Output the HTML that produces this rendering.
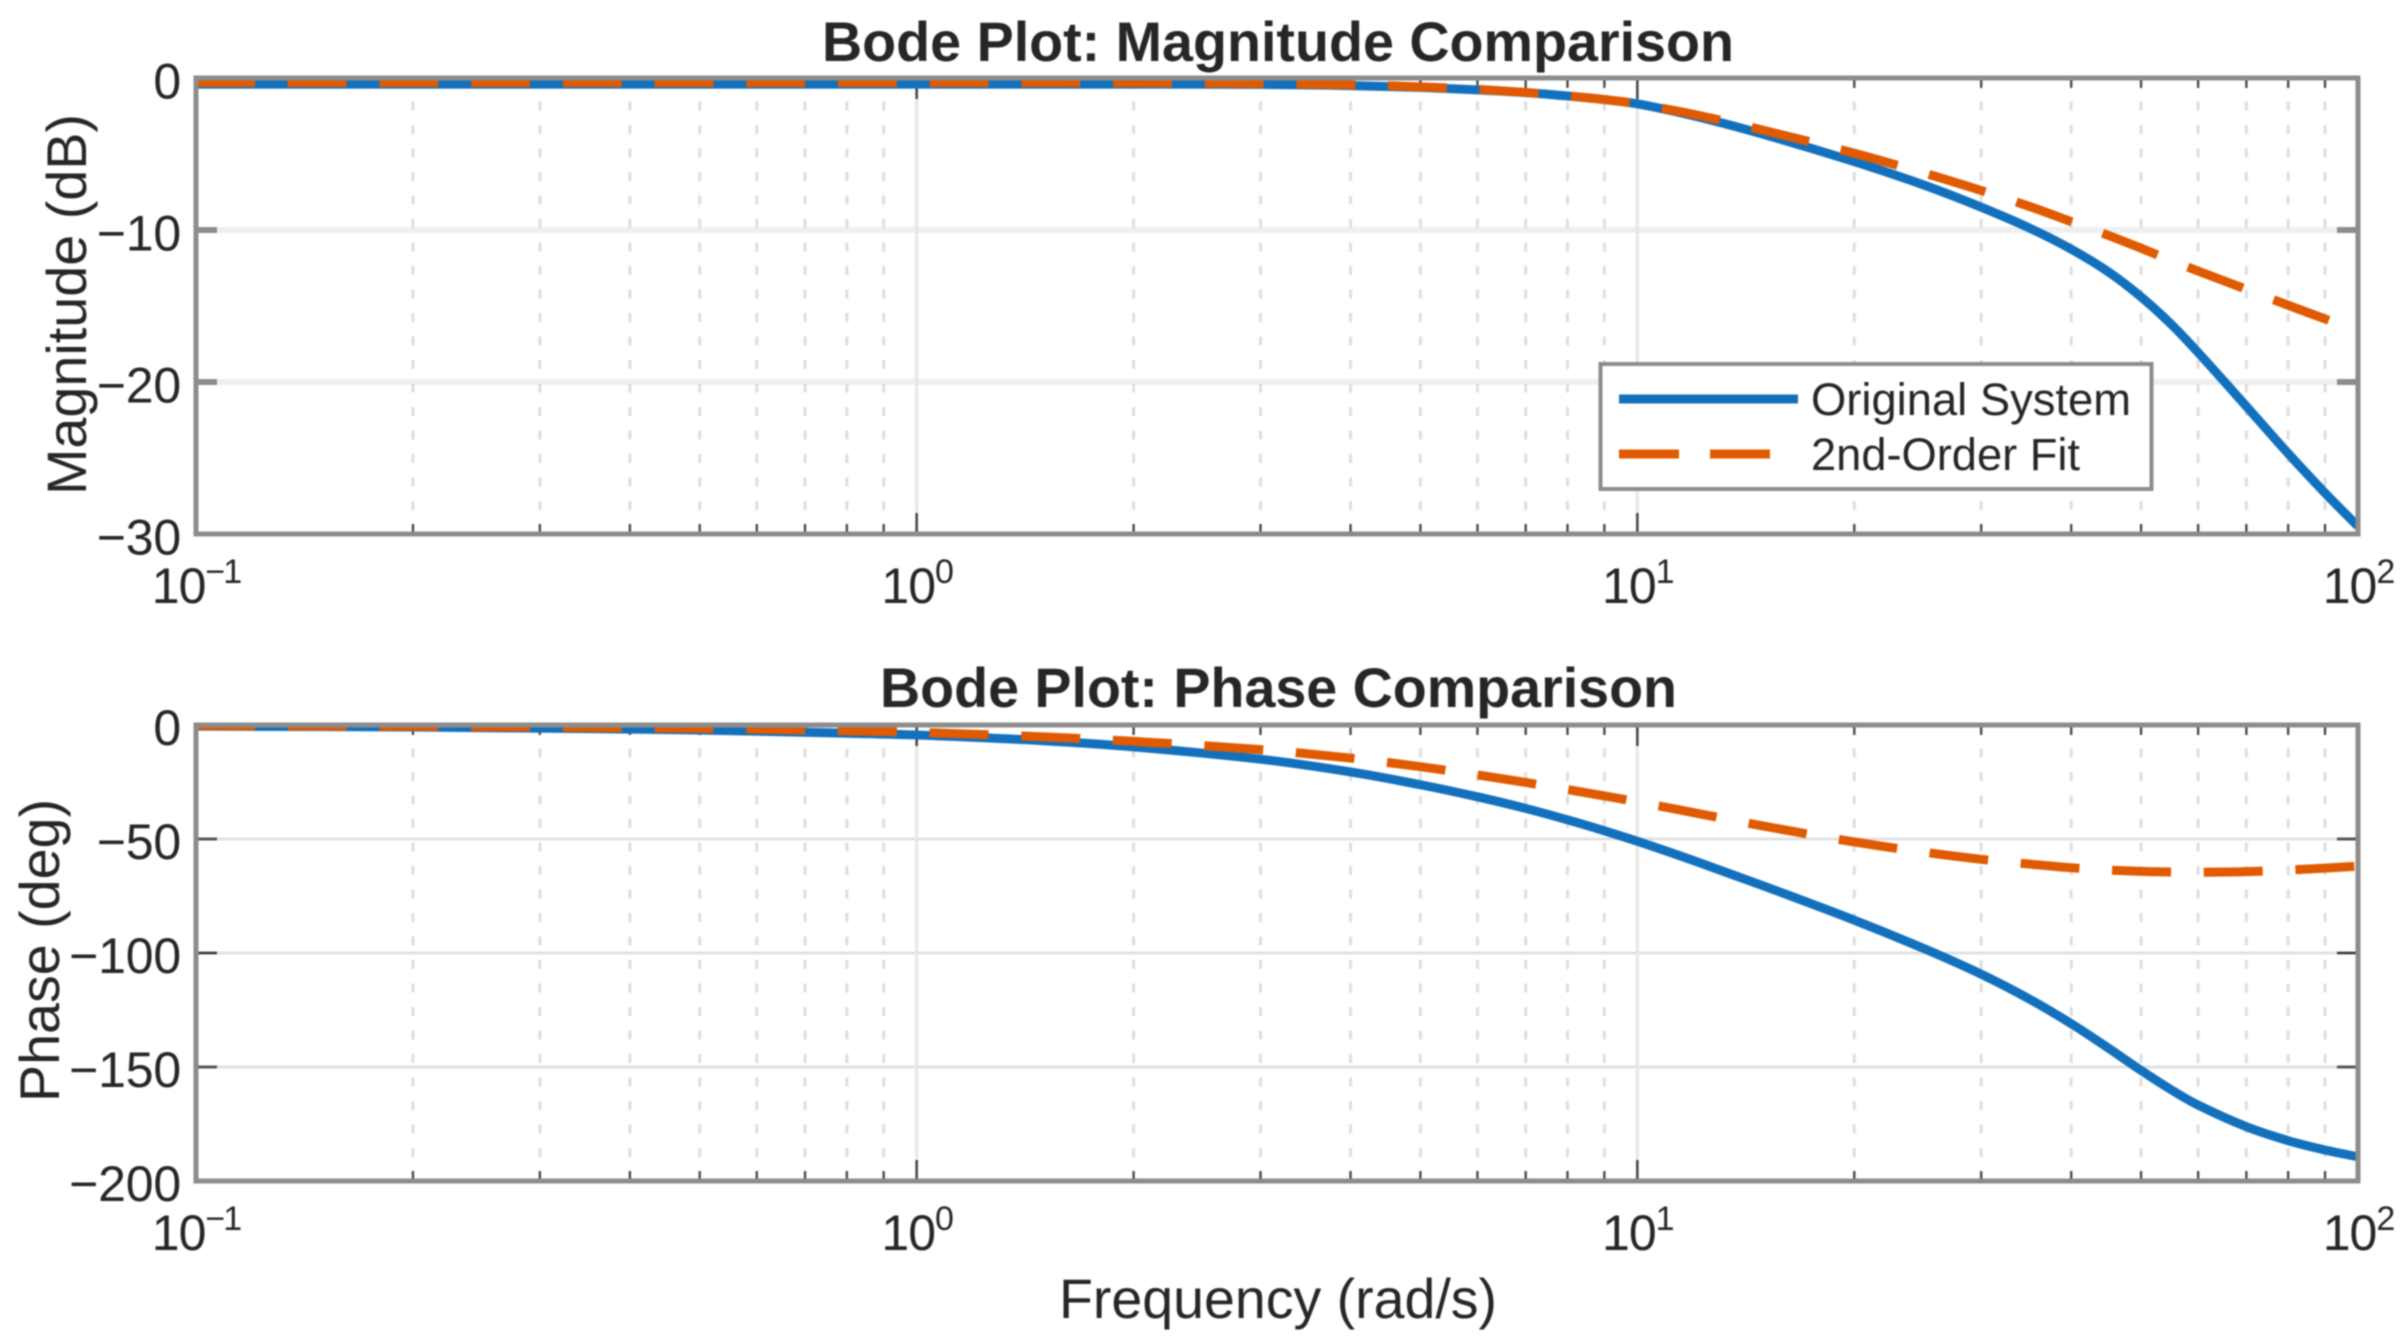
<!DOCTYPE html>
<html>
<head>
<meta charset="utf-8">
<title>Bode Plot Comparison</title>
<style>
html,body{margin:0;padding:0;background:#fff;width:2406px;height:1342px;overflow:hidden}
svg{display:block;filter:blur(0.8px)}
text{font-family:"Liberation Sans",sans-serif;fill:#262626}
</style>
</head>
<body>
<svg id="chart" xmlns="http://www.w3.org/2000/svg" width="2406" height="1342" viewBox="0 0 2406 1342">
  <rect x="0" y="0" width="2406" height="1342" fill="#ffffff"/>
  <defs>
    <clipPath id="clip-mag"><rect x="196" y="78" width="2162" height="456"/></clipPath>
    <clipPath id="clip-phase"><rect x="196" y="725" width="2162" height="456"/></clipPath>
  </defs>
  <g id="mag-panel"></g>
  <g id="phase-panel"></g>
  <text x="822" y="61" font-size="56" font-weight="bold" textLength="912" lengthAdjust="spacingAndGlyphs">Bode Plot: Magnitude Comparison</text>
  <text x="880" y="707" font-size="56" font-weight="bold" textLength="797" lengthAdjust="spacingAndGlyphs">Bode Plot: Phase Comparison</text>
  <text transform="translate(86,495) rotate(-90)" font-size="56" textLength="381" lengthAdjust="spacingAndGlyphs">Magnitude (dB)</text>
  <text transform="translate(59,1102) rotate(-90)" font-size="56" textLength="303" lengthAdjust="spacingAndGlyphs">Phase (deg)</text>
  <text x="1059" y="1318" font-size="56" textLength="438" lengthAdjust="spacingAndGlyphs">Frequency (rad/s)</text>
  <g>
    <rect x="1600.5" y="364" width="551" height="125" fill="#ffffff" stroke="#8c8c8c" stroke-width="4"/>
    <line x1="1619" y1="399" x2="1798" y2="399" stroke="#1270bd" stroke-width="9"/>
    <line x1="1619" y1="454" x2="1798" y2="454" stroke="#df5a00" stroke-width="9" stroke-dasharray="60 31"/>
    <text x="1811" y="415" font-size="45" textLength="320" lengthAdjust="spacingAndGlyphs">Original System</text>
    <text x="1811" y="470" font-size="45" textLength="269" lengthAdjust="spacingAndGlyphs">2nd-Order Fit</text>
  </g>
</svg>
<script>
// Data
const frequencies = [0.1,0.2,0.5,0.8,1,1.5,2,3,4,5,6,7,8,9,10,12,15,20,25,30,35,40,45,50,55,60,70,80,90,100];
const magOriginal = [-0.4,-0.4,-0.4,-0.4,-0.4,-0.4,-0.4,-0.42,-0.5,-0.62,-0.78,-0.96,-1.18,-1.42,-1.7,-2.5,-3.72,-5.5,-7.05,-8.5,-9.87,-11.26,-12.74,-14.4,-16.18,-18.06,-21.6,-24.7,-27.3,-29.5];
const magFit = [-0.3,-0.3,-0.3,-0.3,-0.3,-0.3,-0.32,-0.36,-0.45,-0.58,-0.75,-0.95,-1.18,-1.42,-1.7,-2.4,-3.45,-4.95,-6.25,-7.4,-8.45,-9.45,-10.35,-11.2,-12,-12.7,-13.9,-14.95,-15.85,-16.65];
const phaseOriginal = [-0.5,-0.9,-2.2,-3.6,-4.4,-6.9,-9.6,-15,-20.6,-26.2,-31.5,-36.6,-41.6,-46.4,-51,-59.6,-70.7,-85.6,-98.1,-109.3,-120.2,-131,-141.6,-151.5,-159.9,-166.7,-176.2,-182.3,-186.4,-189.4];
const phaseFit = [-0.3,-0.6,-1.5,-2.5,-3.2,-5.2,-7.2,-10.8,-14.5,-18.3,-21.9,-25.2,-28.3,-31.1,-33.7,-38.5,-44.4,-51.3,-55.8,-58.9,-61,-62.6,-63.6,-64.2,-64.5,-64.6,-64.3,-63.6,-62.8,-61.9];
const xDecades = [-1,0,1,2];
const xMinorMultipliers = [2,3,4,5,6,7,8,9];
const magTicks = [0,-10,-20,-30];
const phaseTicks = [0,-50,-100,-150,-200];

const NS = 'http://www.w3.org/2000/svg';
const left = 196, right = 2358;
const xScale = f => left + (Math.log10(f) + 1) / 3 * (right - left);
const yScaleFor = (top, bottom, min) => v => top + (v / min) * (bottom - top);

function make(parent, tag, attrs) {
  const el = document.createElementNS(NS, tag);
  for (const k in attrs) el.setAttribute(k, attrs[k]);
  parent.appendChild(el);
  return el;
}

function curvePath(xs, ys, xf, yf) {
  const p = xs.map((x, i) => [xf(x), yf(ys[i])]);
  let d = 'M' + p[0][0].toFixed(2) + ' ' + p[0][1].toFixed(2);
  for (let i = 0; i < p.length - 1; i++) {
    const p0 = p[Math.max(i - 1, 0)], p1 = p[i], p2 = p[i + 1], p3 = p[Math.min(i + 2, p.length - 1)];
    const h = p2[0] - p1[0];
    const m1 = (p2[1] - p0[1]) / (p2[0] - p0[0]);
    const m2 = (p3[1] - p1[1]) / (p3[0] - p1[0]);
    d += 'C' + (p1[0] + h / 3).toFixed(2) + ' ' + (p1[1] + m1 * h / 3).toFixed(2) + ' ' +
         (p2[0] - h / 3).toFixed(2) + ' ' + (p2[1] - m2 * h / 3).toFixed(2) + ' ' +
         p2[0].toFixed(2) + ' ' + p2[1].toFixed(2);
  }
  return d;
}

function drawPanel(cfg) {
  const g = document.getElementById(cfg.groupId);
  const yf = yScaleFor(cfg.top, cfg.bottom, cfg.yMin);
  const tickLen = 21, minorLen = 10;

  // horizontal major grid
  cfg.yTicks.forEach(v => {
    if (v === 0 || v === cfg.yMin) return;
    const l = make(g, 'line', {x1: left, x2: right, y1: yf(v), y2: yf(v), stroke: cfg.hGridColor, 'stroke-width': cfg.hGridWidth});
    
    
  });

  // vertical grid, minor and major ticks
  xDecades.forEach(k => {
    const fx = xScale(Math.pow(10, k));
    if (k > -1 && k < 2) {
      const l = make(g, 'line', {x1: fx, x2: fx, y1: cfg.top, y2: cfg.bottom, stroke: '#e6e6e6', 'stroke-width': 3});
      
      
    }
    [cfg.top, cfg.bottom].forEach(edge => {
      const dir = edge === cfg.top ? 1 : -1;
      if (k > -1 && k < 2) {
        const t = make(g, 'line', {x1: fx, x2: fx, y1: edge, y2: edge + dir * tickLen, stroke: '#444444', 'stroke-width': 2.5});
        
        
      }
    });
    if (k === 2) return;
    xMinorMultipliers.forEach(m => {
      const x = xScale(m * Math.pow(10, k));
      const l = make(g, 'line', {x1: x, x2: x, y1: cfg.top, y2: cfg.bottom, stroke: '#dedede', 'stroke-width': 3, 'stroke-dasharray': '9 14.5'});
      
      
      [cfg.top, cfg.bottom].forEach(edge => {
        const dir = edge === cfg.top ? 1 : -1;
        const t = make(g, 'line', {x1: x, x2: x, y1: edge, y2: edge + dir * minorLen, stroke: '#444444', 'stroke-width': 2.2});
        
        
      });
    });
  });

  // y ticks
  cfg.yTicks.forEach((v, i) => {
    if (v !== 0 && v !== cfg.yMin) {
      const strong = cfg.darkTick === v;
      [[left, left + tickLen], [right - tickLen, right]].forEach(seg => {
        const t = make(g, 'line', {x1: seg[0], x2: seg[1], y1: yf(v), y2: yf(v), stroke: strong ? '#333333' : cfg.yTickColor, 'stroke-width': strong ? 2.5 : cfg.yTickWidth});
        
        
      });
    }
    const lab = make(g, 'text', {x: 181, y: yf(v) + cfg.yLabelShift, 'font-size': 50, 'text-anchor': 'end', 'letter-spacing': -0.2});
    
    
    lab.textContent = v < 0 ? '\u2212' + Math.abs(v) : String(v);
  });

  // x tick labels
  xDecades.forEach(k => {
    const lab = make(g, 'text', {x: xScale(Math.pow(10, k)), y: cfg.xLabelY, 'font-size': 50, 'text-anchor': 'middle'});
    
    
    const base = make(lab, 'tspan', {'letter-spacing': -1});
    base.textContent = '10';
    const exp = make(lab, 'tspan', {'font-size': 34, dy: -20, 'letter-spacing': -2});
    exp.textContent = k < 0 ? '\u2212' + Math.abs(k) : String(k);
  });

  // series
  const blue = make(g, 'path', {d: curvePath(frequencies, cfg.original, xScale, yf), fill: 'none', stroke: '#1270bd', 'stroke-width': 9, 'clip-path': 'url(#' + cfg.clip + ')'});
  
  
  const orange = make(g, 'path', {d: curvePath(frequencies, cfg.fit, xScale, yf), fill: 'none', stroke: '#df5a00', 'stroke-width': 9, 'stroke-dasharray': '59 32.7', 'clip-path': 'url(#' + cfg.clip + ')'});
  
  

  // axes frame
  const frame = make(g, 'rect', {x: left, y: cfg.top, width: right - left, height: cfg.bottom - cfg.top, fill: 'none', stroke: '#8c8c8c', 'stroke-width': 5});
  
  
}

drawPanel({groupId: 'mag-panel', top: 78, bottom: 534, yMin: -30, yTicks: magTicks, original: magOriginal, fit: magFit, clip: 'clip-mag',
  hGridColor: '#efefef', hGridWidth: 6, yTickColor: '#8c8c8c', yTickWidth: 6, darkTick: null, yLabelShift: 20.5, xLabelY: 603});
drawPanel({groupId: 'phase-panel', top: 725, bottom: 1181, yMin: -200, yTicks: phaseTicks, original: phaseOriginal, fit: phaseFit, clip: 'clip-phase',
  hGridColor: '#e2e2e2', hGridWidth: 3, yTickColor: '#555555', yTickWidth: 3, darkTick: -100, yLabelShift: 20, xLabelY: 1250});
</script>
</body>
</html>
